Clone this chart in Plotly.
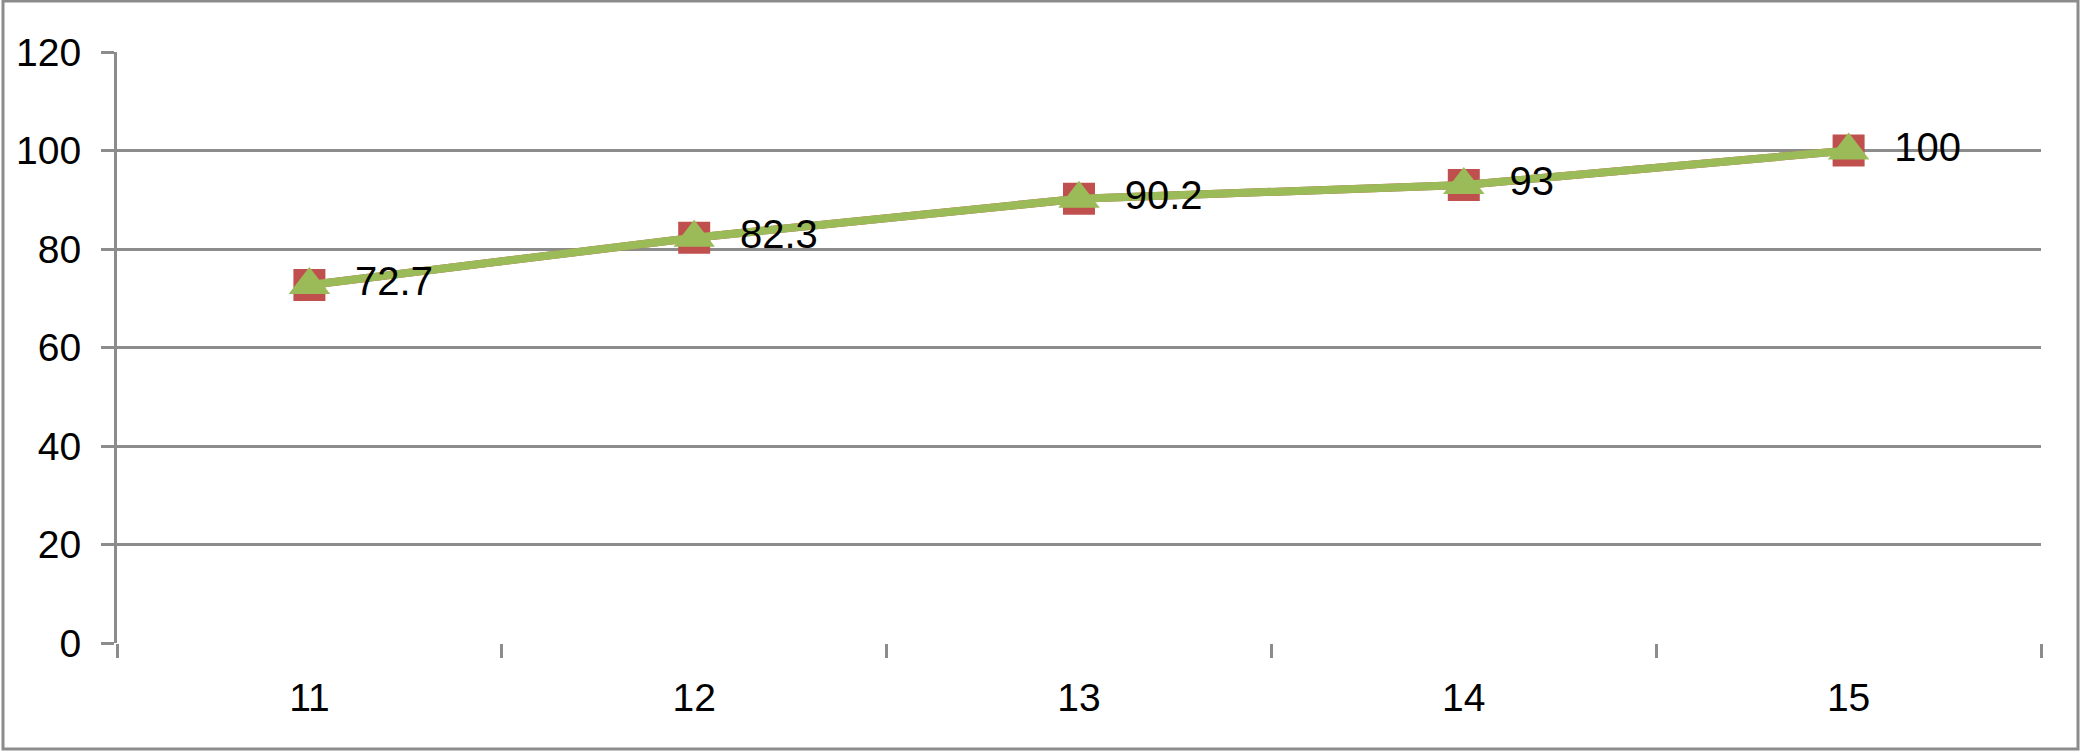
import plotly.graph_objects as go

categories = ["11", "12", "13", "14", "15"]
series_red = [72.7, 82.3, 90.2, 93, 100]
series_green = [72.7, 82.3, 90.2, 93, 100]
y_ticks = [0, 20, 40, 60, 80, 100, 120]

W, H = 2083, 753
ML, MR, MT, MB = 117, 42, 52, 110
pw, ph = W - ML - MR, H - MT - MB

fig = go.Figure()

# red series (square markers), mostly hidden under the green one
fig.add_trace(go.Scatter(
    x=categories, y=series_red,
    mode='lines+markers',
    line=dict(color='#C0504D', width=8),
    marker=dict(symbol='square', size=32, color='#C0504D'),
    showlegend=False, hoverinfo='skip'
))

# green series (triangles) with data labels
fig.add_trace(go.Scatter(
    x=categories, y=series_green,
    mode='lines+markers+text',
    line=dict(color='#9BBB59', width=8),
    marker=dict(symbol='triangle-up', size=36, color='#9BBB59'),
    text=["  " + (f"{v:g}") for v in series_green],
    textposition='middle right',
    textfont=dict(size=40, color='black'),
    showlegend=False, hoverinfo='skip'
))

# outer frame around the whole chart
fig.add_shape(
    type='rect', xref='paper', yref='paper',
    x0=(3 - ML) / pw, x1=(2078 - ML) / pw,
    y0=-(749 - (H - MB)) / ph, y1=(H - MB - 1) / ph,
    line=dict(color='#8C8C8C', width=3), fillcolor='rgba(0,0,0,0)', layer='below'
)

fig.update_xaxes(
    type='category', range=[-0.5, 4.5],
    showgrid=False, zeroline=False,
    showline=False,
    ticks='outside', tickson='boundaries', ticklen=14, tickwidth=3, tickcolor='#8C8C8C',
    tickfont=dict(size=39, color='black'),
    ticklabelstandoff=28,
)
fig.update_yaxes(
    range=[0, 120], tickvals=y_ticks,
    showgrid=True, gridcolor='#8C8C8C', gridwidth=3,
    zeroline=False,
    showline=True, linecolor='#8C8C8C', linewidth=3,
    ticks='outside', ticklen=13, tickwidth=3, tickcolor='#8C8C8C',
    tickfont=dict(size=39, color='black'),
    ticklabelstandoff=12,
)

fig.update_layout(
    width=W, height=H,
    margin=dict(l=ML, r=MR, t=MT, b=MB),
    plot_bgcolor='white',
    paper_bgcolor='white',
    font=dict(family='Liberation Sans, Arial, sans-serif', color='black'),
)

fig.write_html("out.html", config={'displayModeBar': False},
               post_script="document.body.style.margin='0';document.body.style.overflow='hidden';")
